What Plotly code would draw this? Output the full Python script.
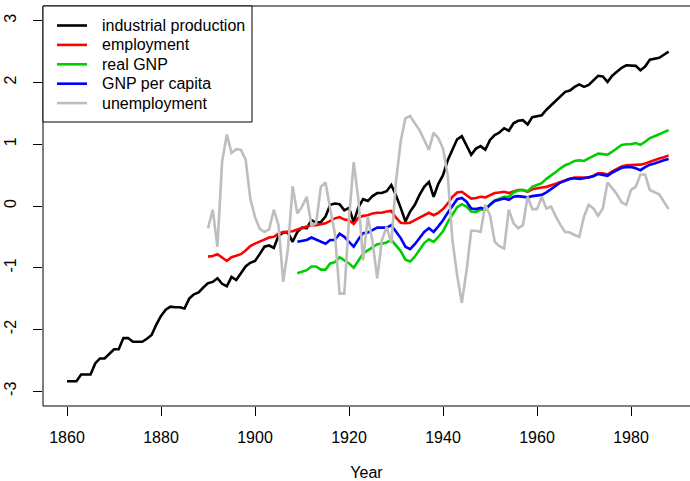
import plotly.graph_objects as go

# Nelson-Plosser style macro series (standardised log scale)
years_ip = list(range(1860, 1989))
industrial_production = [
    -2.84, -2.84, -2.84, -2.73, -2.73, -2.73, -2.55, -2.47, -2.47, -2.39,
    -2.32, -2.32, -2.14, -2.14, -2.20, -2.20, -2.20, -2.15, -2.09, -1.92,
    -1.78, -1.68, -1.63, -1.64, -1.64, -1.66, -1.50, -1.43, -1.40, -1.32,
    -1.25, -1.23, -1.17, -1.26, -1.30, -1.15, -1.20, -1.09, -0.98, -0.92,
    -0.89, -0.78, -0.66, -0.64, -0.68, -0.48, -0.43, -0.43, -0.58, -0.42,
    -0.35, -0.36, -0.23, -0.27, -0.26, -0.17, 0.02, 0.04, 0.03, -0.07,
    -0.03, -0.26, -0.02, 0.11, 0.08, 0.16, 0.21, 0.21, 0.24, 0.34,
    0.17, -0.03, -0.25, -0.09, 0.02, 0.18, 0.31, 0.39, 0.15, 0.36,
    0.50, 0.74, 0.90, 1.08, 1.13, 0.99, 0.83, 0.93, 0.97, 0.91,
    1.07, 1.15, 1.19, 1.26, 1.22, 1.34, 1.38, 1.39, 1.32, 1.44,
    1.46, 1.47, 1.56, 1.63, 1.71, 1.78, 1.85, 1.87, 1.93, 1.97,
    1.93, 1.96, 2.04, 2.11, 2.10, 2.01, 2.11, 2.18, 2.24, 2.28,
    2.27, 2.27, 2.20, 2.26, 2.37, 2.39, 2.40, 2.45, 2.50,
]

years_emp = list(range(1890, 1989))
employment = [
    -0.82, -0.81, -0.78, -0.84, -0.89, -0.83, -0.80, -0.78, -0.72, -0.65,
    -0.61, -0.58, -0.54, -0.51, -0.50, -0.45, -0.42, -0.42, -0.41, -0.38,
    -0.36, -0.33, -0.31, -0.31, -0.30, -0.28, -0.24, -0.20, -0.18, -0.22,
    -0.23, -0.29, -0.19, -0.16, -0.15, -0.12, -0.11, -0.11, -0.09, -0.08,
    -0.19, -0.27, -0.28, -0.27, -0.23, -0.19, -0.15, -0.11, -0.15, -0.11,
    -0.05, 0.04, 0.15, 0.22, 0.23, 0.18, 0.12, 0.13, 0.15, 0.14,
    0.17, 0.21, 0.22, 0.23, 0.21, 0.24, 0.26, 0.26, 0.23, 0.27,
    0.29, 0.30, 0.31, 0.33, 0.36, 0.39, 0.42, 0.44, 0.46, 0.46,
    0.45, 0.46, 0.49, 0.53, 0.53, 0.51, 0.56, 0.60, 0.64, 0.66,
    0.66, 0.66, 0.67, 0.69, 0.72, 0.74, 0.77, 0.79, 0.82,
]

years_gnp = list(range(1909, 1989))
real_gnp = [
    -1.09, -1.06, -1.04, -0.98, -0.98, -1.03, -1.03, -0.93, -0.91, -0.83,
    -0.88, -0.93, -1.00, -0.88, -0.77, -0.72, -0.67, -0.62, -0.61, -0.59,
    -0.55, -0.65, -0.73, -0.87, -0.90, -0.82, -0.72, -0.60, -0.54, -0.58,
    -0.50, -0.41, -0.26, -0.13, -0.02, 0.03, -0.01, -0.09, -0.10, -0.06,
    -0.06, 0.02, 0.09, 0.12, 0.15, 0.15, 0.22, 0.25, 0.26, 0.24,
    0.31, 0.34, 0.37, 0.44, 0.49, 0.55, 0.61, 0.66, 0.69, 0.73,
    0.74, 0.73, 0.77, 0.81, 0.85, 0.84, 0.83, 0.88, 0.94, 0.99,
    1.00, 1.00, 1.02, 0.99, 1.04, 1.10, 1.13, 1.16, 1.19, 1.23,
]
gnp_per_capita = [
    -0.58, -0.57, -0.55, -0.51, -0.54, -0.58, -0.61, -0.55, -0.55, -0.45,
    -0.50, -0.58, -0.66, -0.54, -0.44, -0.43, -0.39, -0.35, -0.35, -0.35,
    -0.31, -0.42, -0.52, -0.66, -0.70, -0.62, -0.52, -0.42, -0.36, -0.42,
    -0.33, -0.23, -0.11, 0.01, 0.11, 0.13, 0.07, -0.04, -0.05, -0.03,
    -0.05, 0.02, 0.08, 0.10, 0.12, 0.10, 0.15, 0.16, 0.15, 0.14,
    0.16, 0.17, 0.18, 0.22, 0.27, 0.33, 0.38, 0.41, 0.44, 0.45,
    0.44, 0.45, 0.46, 0.48, 0.52, 0.51, 0.49, 0.54, 0.58, 0.62,
    0.63, 0.63, 0.61, 0.58, 0.63, 0.67, 0.69, 0.72, 0.74, 0.76,
]

years_ur = list(range(1890, 1989))
unemployment = [
    -0.36, -0.06, -0.66, 0.72, 1.16, 0.86, 0.92, 0.91, 0.75, 0.12,
    -0.18, -0.37, -0.42, -0.38, -0.06, -0.31, -1.23, -0.70, 0.32, -0.12,
    -0.01, 0.15, -0.31, -0.28, 0.31, 0.38, -0.05, -0.45, -1.42, -1.42,
    -0.20, 0.71, 0.10, -0.88, -0.17, -0.58, -1.17, -0.55, -0.34, -0.60,
    0.40, 1.05, 1.42, 1.46, 1.34, 1.23, 1.07, 0.91, 1.19, 1.10,
    0.93, 0.50, -0.55, -1.12, -1.57, -1.05, -0.40, -0.40, -0.42, 0.02,
    -0.15, -0.58, -0.65, -0.69, -0.06, -0.28, -0.36, -0.31, 0.15, -0.05,
    -0.05, 0.15, -0.04, -0.01, -0.17, -0.31, -0.42, -0.43, -0.47, -0.50,
    -0.17, 0.02, -0.04, -0.16, -0.04, 0.38, 0.29, 0.19, 0.06, 0.02,
    0.26, 0.31, 0.51, 0.51, 0.26, 0.22, 0.19, 0.07, -0.05,
]

series_names = ["industrial production", "employment", "real GNP",
                "GNP per capita", "unemployment"]
series_colors = ["#000000", "#FF0000", "#00CD00", "#0000FF", "#BEBEBE"]
series_x = [years_ip, years_emp, years_gnp, years_gnp, years_ur]
series_y = [industrial_production, employment, real_gnp, gnp_per_capita,
            unemployment]

x_ticks = [1860, 1880, 1900, 1920, 1940, 1960, 1980]
y_ticks = [-3, -2, -1, 0, 1, 2, 3]
y_tick_text = ["-3", "-2", "-1", "0", "1", "2", "3"]

FONT = "Liberation Sans, Arial, Helvetica, sans-serif"
W, H = 690, 481
ML, MR, MT, MB = 43, 0, 6, 75

fig = go.Figure()
for name, color, xs, ys in zip(series_names, series_colors, series_x, series_y):
    fig.add_trace(go.Scatter(
        x=xs, y=ys, mode="lines", name=name,
        line=dict(color=color, width=2.6),
        showlegend=False, hoverinfo="skip",
    ))

# frame around the plotting region (right edge falls off the page)
shapes = [dict(type="rect", xref="paper", yref="paper",
               x0=0, x1=1.05, y0=0, y1=1,
               line=dict(color="black", width=1), layer="above")]

# legend box in the top-left corner
plot_w = W - ML - MR
plot_h = H - MT - MB
def px_x(p):
    return (p - ML) / plot_w
def px_y(p):
    return (H - MB - p) / plot_h

shapes.append(dict(type="rect", xref="paper", yref="paper",
                   x0=0, x1=px_x(252), y0=px_y(122), y1=1,
                   line=dict(color="black", width=1),
                   fillcolor="white", layer="above"))
annotations = []
for i, (name, color) in enumerate(zip(series_names, series_colors)):
    row_y = px_y(25.5 + 19.4 * i)
    shapes.append(dict(type="line", xref="paper", yref="paper",
                       x0=px_x(57), x1=px_x(87), y0=row_y, y1=row_y,
                       line=dict(color=color, width=2.6), layer="above"))
    annotations.append(dict(xref="paper", yref="paper", x=px_x(100), y=row_y,
                            text=name, showarrow=False, xanchor="left",
                            yanchor="middle", font=dict(size=16, color="black")))

fig.update_layout(
    width=W, height=H,
    margin=dict(l=ML, r=MR, t=MT, b=MB, pad=0),
    paper_bgcolor="white", plot_bgcolor="white",
    font=dict(family=FONT, size=16, color="black"),
    shapes=shapes, annotations=annotations,
    showlegend=False,
    xaxis=dict(
        range=[1854.89, 1992.55], tickmode="array", tickvals=x_ticks,
        ticks="outside", ticklen=9, tickwidth=1, tickcolor="black",
        showgrid=False, zeroline=False, showline=False,
        ticklabelstandoff=8,
        title=dict(text="Year", standoff=22, font=dict(size=16)),
    ),
    yaxis=dict(
        range=[-3.24, 3.24], tickmode="array", tickvals=y_ticks,
        ticktext=y_tick_text, tickangle=-90,
        ticks="outside", ticklen=9, tickwidth=1, tickcolor="black",
        showgrid=False, zeroline=False, showline=False,
        ticklabelstandoff=11,
    ),
)

fig.write_html("out.html")
